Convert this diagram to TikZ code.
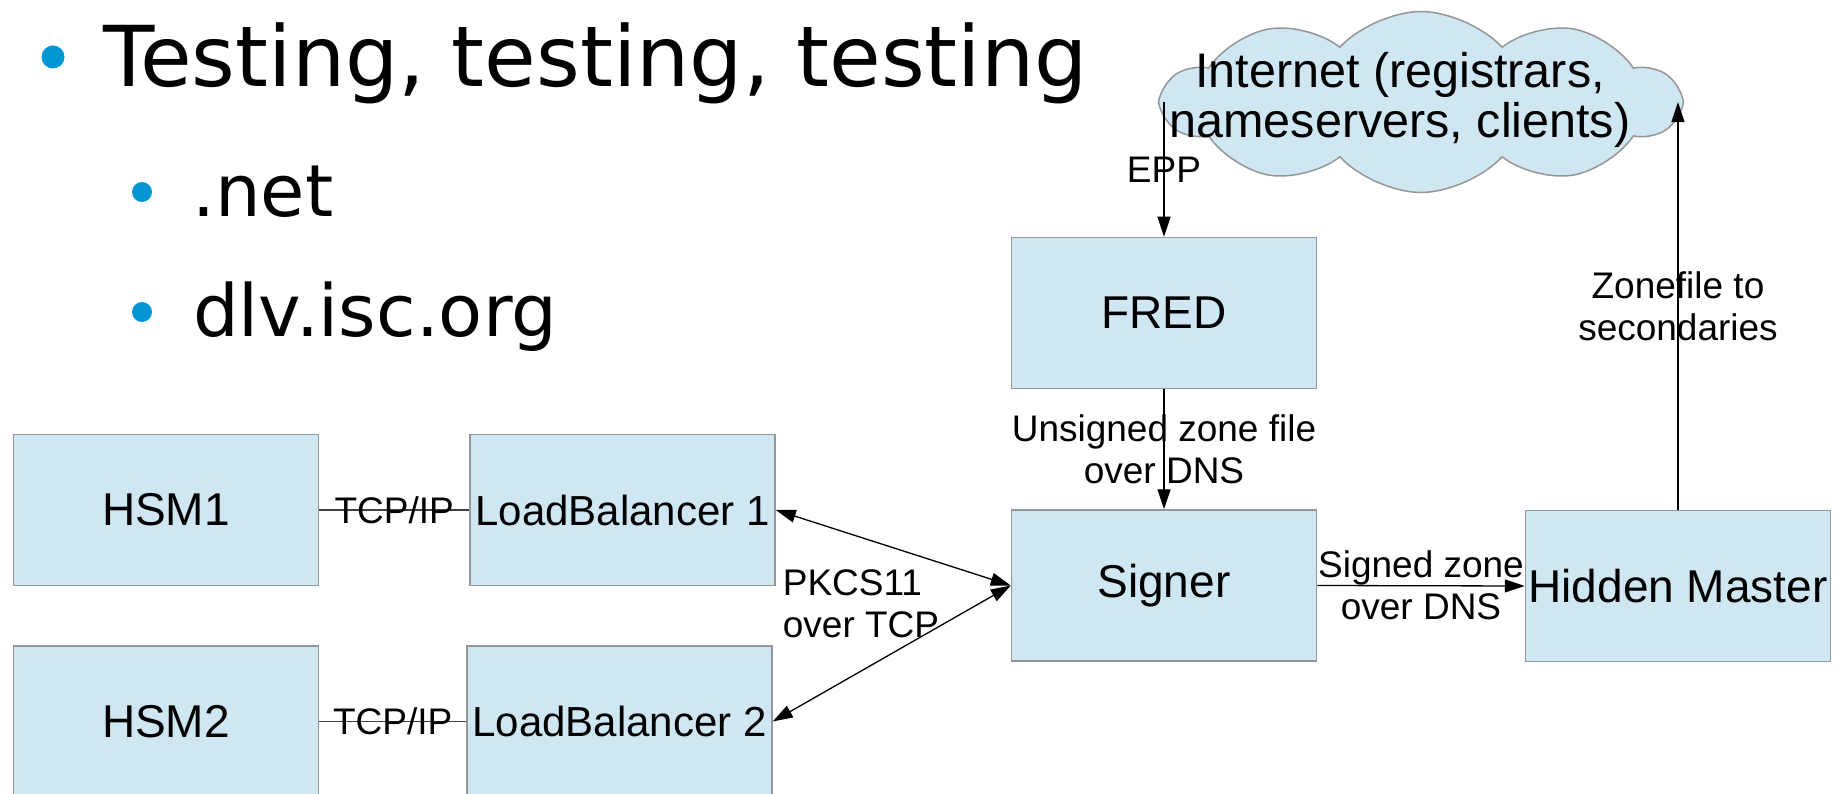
\documentclass[tikz,border=0pt]{standalone}
\usepackage{fontspec}
\setmainfont{Liberation Sans}
\newfontfamily\djv{DejaVu Sans}
\usetikzlibrary{arrows.meta,shapes.symbols}
\definecolor{boxfill}{RGB}{207,230,243}
\definecolor{boxline}{RGB}{150,150,150}
\definecolor{bulletblue}{RGB}{0,150,214}
\tikzset{
  box/.style={draw=boxline, line width=1.5pt, fill=boxfill, minimum width=305pt,
    minimum height=151pt, inner sep=0pt, font=\fontsize{46}{50}\selectfont},
  lbbox/.style={box, font=\fontsize{42}{46}\selectfont},
  tip/.tip={Triangle[length=20pt,width=13pt]},
  arr/.style={line width=1.3pt, -tip},
  darr/.style={line width=1.3pt, tip-tip},
  wire/.style={line width=1.3pt, draw=black!75},
  lbl/.style={font=\fontsize{37}{42}\selectfont, align=center, inner sep=0pt},
  dotmark/.style={circle, fill=bulletblue, inner sep=0pt},
  bigtxt/.style={font=\djv\fontsize{84}{90}\selectfont, inner sep=0pt, anchor=base west},
  subtxt/.style={font=\djv\fontsize{72}{80}\selectfont, inner sep=0pt, anchor=base west},
}
\begin{document}
\begin{tikzpicture}[x=1pt,y=-1pt]
\useasboundingbox (0,0) rectangle (1837,794);

% bullet list
\node[dotmark, minimum size=23pt] (b1) at (53,57) {};
\node[bigtxt] (t1) at (103,87) {Testing, testing, testing};
\node[dotmark, minimum size=20pt] (b2) at (142,192) {};
\node[subtxt] (t2) at (192,217) {.net};
\node[dotmark, minimum size=20pt] (b3) at (142,312) {};
\node[subtxt] (t3) at (193,337) {dlv.isc.org};

% boxes
\node[box] (hsm1) at (166,510) {HSM1};
\node[box] (hsm2) at (166,721.5) {HSM2};
\node[lbbox] (lb1) at (622.5,510) {LoadBalancer 1};
\node[lbbox] (lb2) at (619.5,721.5) {LoadBalancer 2};
\node[box] (fred) at (1164,313) {FRED};
\node[box] (signer) at (1164,585.5) {Signer};
\node[box] (hm) at (1678,586) {Hidden Master};

% cloud
\node[cloud, cloud puffs=10, cloud puff arc=95, cloud ignores aspect,
      draw=boxline, line width=1.5pt, fill=boxfill,
      minimum width=515pt, minimum height=181pt, inner sep=0pt] (cloud) at (1421,102) {};
\node[font=\fontsize{48.5}{50}\selectfont, align=center, inner sep=0pt] (inet) at (1400,100)
  {Internet (registrars,\\nameservers, clients)};

% connectors
\draw[arr] (fred.north |- cloud.west) -- node[lbl] {EPP} (fred.north);
\draw[arr] (hm.north) -- node[lbl] {Zonefile to\\secondaries} (hm.north |- cloud.east);
\draw[arr] (fred.south) -- node[lbl] {Unsigned zone file\\over DNS} (signer.north);
\draw[arr] (signer.east) -- node[lbl] {Signed zone\\over DNS} (hm.west);
\draw[darr] (signer.west) -- (lb1.east);
\draw[darr] (signer.west) -- (lb2.east);
\node[lbl, align=left] (pkcs) at (861,604) {PKCS11\\over TCP};
\draw[wire] (hsm1.east) -- node[lbl] {TCP/IP} (lb1.west);
\draw[wire] (hsm2.east) -- node[lbl] {TCP/IP} (lb2.west);
\end{tikzpicture}
\end{document}
